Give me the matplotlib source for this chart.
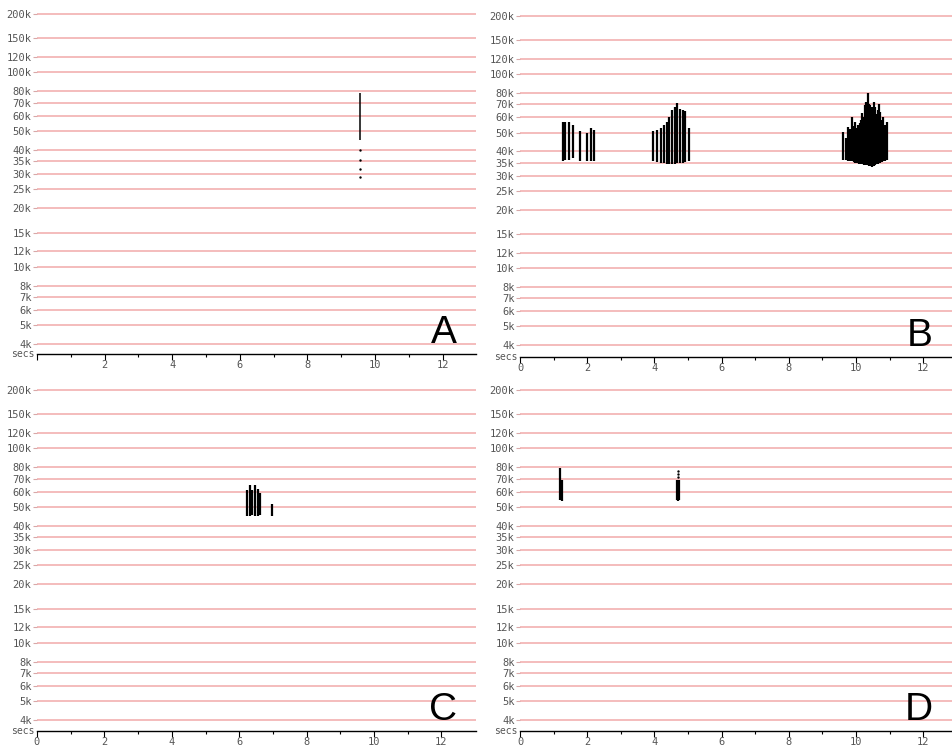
import numpy as np
import matplotlib
matplotlib.use("Agg")
import matplotlib.pyplot as plt
from matplotlib.ticker import FixedLocator, NullLocator

# frequency grid (Hz) and labels
freq_ticks = [4000, 5000, 6000, 7000, 8000, 10000, 12000, 15000, 20000, 25000,
              30000, 35000, 40000, 50000, 60000, 70000, 80000, 100000, 120000,
              150000, 200000]
freq_labels = ["4k", "5k", "6k", "7k", "8k", "10k", "12k", "15k", "20k", "25k",
               "30k", "35k", "40k", "50k", "60k", "70k", "80k", "100k", "120k",
               "150k", "200k"]
sec_ticks = [0, 2, 4, 6, 8, 10, 12]

# pulses: time (s), top and bottom frequency (kHz)
a_t = [9.55]
a_top = [78]
a_bot = [45]
a_dot_t = [9.55, 9.55, 9.55, 9.55]
a_dot_f = [40, 35.5, 32, 29]

b_t = [1.27, 1.34, 1.47, 1.57, 1.79, 1.99, 2.12, 2.21,
       3.97, 4.09, 4.19, 4.29, 4.37, 4.44, 4.52, 4.60, 4.68, 4.76, 4.84, 4.92, 5.02,
       9.62, 9.70, 9.77, 9.83, 9.89, 9.93, 9.97, 10.01, 10.05, 10.08, 10.12, 10.15,
       10.19, 10.23, 10.27, 10.31, 10.35, 10.38, 10.42, 10.45, 10.49, 10.53,
       10.57, 10.61, 10.65, 10.68, 10.71, 10.76, 10.81, 10.86, 10.91]
b_top = [57, 57, 57, 55, 51, 50, 53, 51.5,
         51, 51.3, 53, 55, 56.5, 60.4, 65.4, 67.5, 70.8, 66.5, 65.4, 65, 52.5,
         50.5, 47, 53.6, 52, 60.4, 54, 56.5, 53, 55, 54, 55.8, 58,
         63, 60, 69, 72, 80, 70, 69, 66, 68, 72,
         68, 62, 65.4, 70, 64, 58, 60, 55, 57]
b_bot = [35.8, 36, 36, 37, 35.5, 35.7, 35.7, 35.7,
         35.5, 35.3, 35, 34.8, 34.5, 34.5, 34.3, 34.5, 35, 34.8, 35, 35.3, 35.5,
         36, 36, 35.6, 35.8, 35.6, 35.2, 35, 34.9, 34.7, 34.6, 34.5, 34.6,
         34.5, 34.2, 34, 34, 34, 33.8, 33.6, 33.5, 33.4, 33.6,
         34, 34.3, 34.5, 34.8, 35, 35.3, 35.5, 35.8, 36]

c_t = [6.23, 6.31, 6.38, 6.46, 6.55, 6.63, 6.97]
c_top = [61, 65, 61, 65, 62, 59, 51.7]
c_bot = [44.7, 45, 45.5, 45, 45, 45.5, 45]

d_t = [1.19, 1.26, 4.68, 4.70, 4.72]
d_top = [79, 69, 69, 69, 69]
d_bot = [54, 53.5, 54, 53.5, 54]
d_dot_t = [4.70, 4.70, 4.70]
d_dot_f = [77, 74, 71.5]

panels = [
    # label, pixel box (l, t, r, b), y of 200k and 4k lines, px per sec, data
    ("A", (37, 10, 476, 354), (14, 344), 33.8, a_t, a_top, a_bot, a_dot_t, a_dot_f, False, 1.1),
    ("B", (520, 12, 952, 357), (16, 345), 33.6, b_t, b_top, b_bot, [], [], True, 1.6),
    ("C", (37, 386, 476, 731), (390, 720), 33.7, c_t, c_top, c_bot, [], [], True, 1.6),
    ("D", (520, 386, 952, 731), (390, 720), 33.6, d_t, d_top, d_bot, d_dot_t, d_dot_f, True, 1.6),
]

W, H = 952, 747
fig = plt.figure(figsize=(W / 100, H / 100), dpi=100)
mono = "DejaVu Sans Mono"

for name, box, ylines, pps, t, top, bot, dt, df, zero_lab, lw in panels:
    l, tp, r, b = box
    ax = fig.add_axes([l / W, 1 - b / H, (r - l) / W, (b - tp) / H])
    dec = (ylines[1] - ylines[0]) / np.log10(50)
    ylo = 4000 / 10 ** ((b - ylines[1]) / dec)
    yhi = 200000 * 10 ** ((ylines[0] - tp) / dec)
    ax.set_yscale("log")
    ax.set_ylim(ylo, yhi)
    ax.set_xlim(0, (r - l) / pps)

    ax.yaxis.set_major_locator(FixedLocator(freq_ticks))
    ax.yaxis.set_minor_locator(NullLocator())
    ax.set_yticklabels(freq_labels, fontfamily=mono, fontsize=7.5, color="#555555")
    ax.grid(axis="y", color="#f2b0b0", lw=1.2)
    ax.set_axisbelow(True)
    ax.tick_params(axis="y", length=3, width=0.8, color="#d8a8a8", pad=1)

    ax.xaxis.set_major_locator(FixedLocator(sec_ticks))
    ax.xaxis.set_minor_locator(FixedLocator([1, 3, 5, 7, 9, 11]))
    xl = [str(s) for s in sec_ticks]
    if not zero_lab:
        xl[0] = ""
    ax.set_xticklabels(xl, fontfamily=mono, fontsize=7.5, color="#555555")
    ax.tick_params(axis="x", which="major", length=4, width=0.8, pad=0)
    ax.tick_params(axis="x", which="minor", length=2.5, width=0.8)

    for s in ["top", "right", "left"]:
        ax.spines[s].set_visible(False)
    ax.spines["bottom"].set_linewidth(1.0)

    ax.vlines(t, np.array(bot) * 1000, np.array(top) * 1000, colors="black", lw=lw, zorder=3)
    if dt:
        ax.scatter(dt, np.array(df) * 1000, s=3, color="black", zorder=3, linewidths=0)

    ax.annotate("secs", xy=(0, 0), xycoords="axes fraction", xytext=(-2, 0),
                textcoords="offset points", ha="right", va="center",
                fontfamily=mono, fontsize=7, color="#555555")

    ax.text(1 - 19 / (r - l), 11 / (b - tp), name, transform=ax.transAxes,
            ha="right", va="baseline", fontsize=28, fontfamily="Liberation Sans")

fig.savefig("out.png", dpi=100)
